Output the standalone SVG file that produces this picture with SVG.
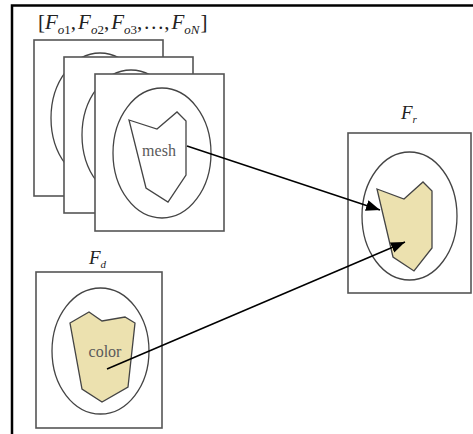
<svg xmlns="http://www.w3.org/2000/svg" width="473" height="434" viewBox="0 0 473 434">
  <style>
    .frame { fill: #ffffff; stroke: #555555; stroke-width: 1.6; }
    .oval { fill: none; stroke: #444444; stroke-width: 1.3; }
    .mesh { fill: #ffffff; stroke: #444444; stroke-width: 1.3; stroke-linejoin: miter; }
    .colored { fill: #ECE1AF; stroke: #444444; stroke-width: 1.3; }
    .lbl { font-family: "Liberation Serif", "Times New Roman", serif; fill: #222222; }
    .it { font-style: italic; }
    .inner { font-family: "Liberation Serif", "Times New Roman", serif; font-size: 16px; fill: #5a5a5a; text-anchor: middle; }
    .conn { stroke: #000000; stroke-width: 1.5; fill: none; }
  </style>
  <defs>
    <marker id="arrow" markerUnits="userSpaceOnUse" markerWidth="15" markerHeight="12" refX="14" refY="5.5" orient="auto">
      <path d="M0,0 L14,5.5 L0,11 z" fill="#000000"/>
    </marker>
  </defs>

  <rect width="473" height="434" fill="#ffffff"/>
  <path d="M12,434 V5.5 H473" fill="none" stroke="#000000" stroke-width="2.5"/>

  <g id="title">
    <text class="lbl" x="38" y="29" font-size="21">[<tspan class="it">F</tspan><tspan class="it" font-size="13" dy="5">o</tspan><tspan font-size="13">1</tspan><tspan dy="-5">,</tspan><tspan class="it" dx="2">F</tspan><tspan class="it" font-size="13" dy="5">o</tspan><tspan font-size="13">2</tspan><tspan dy="-5">,</tspan><tspan class="it" dx="2">F</tspan><tspan class="it" font-size="13" dy="5">o</tspan><tspan font-size="13">3</tspan><tspan dy="-5">,</tspan><tspan dx="1">…,</tspan><tspan class="it" dx="2">F</tspan><tspan class="it" font-size="13" dy="5">oN</tspan><tspan dy="-5" dx="1">]</tspan></text>
  </g>

  <g id="frame-o1">
    <rect class="frame" x="34" y="40" width="129" height="156"/>
    <ellipse class="oval" cx="100" cy="118" rx="49" ry="65"/>
  </g>

  <g id="frame-o2">
    <rect class="frame" x="64" y="57" width="129" height="156"/>
    <ellipse class="oval" cx="131" cy="135" rx="49" ry="65"/>
  </g>

  <g id="frame-o3">
    <rect class="frame" x="95" y="74" width="129" height="157"/>
    <ellipse class="oval" cx="162" cy="153" rx="49" ry="65"/>
    <polygon class="mesh" points="129,120 157,129 177,112 186,121 186,175 168,202 146,188"/>
    <text class="inner" x="159" y="156">mesh</text>
  </g>

  <g id="frame-r">
    <text class="lbl" x="401" y="119" font-size="19"><tspan class="it">F</tspan><tspan class="it" font-size="11" dy="4">r</tspan></text>
    <rect class="frame" x="348" y="133" width="123" height="160"/>
    <ellipse class="oval" cx="409.5" cy="216" rx="47.5" ry="64"/>
    <polygon class="colored" points="377,189 404,199 423,182 432,191 432,248 414,271 393,257"/>
  </g>

  <g id="frame-d">
    <text class="lbl" x="89" y="264" font-size="19"><tspan class="it">F</tspan><tspan class="it" font-size="11" dy="4">d</tspan></text>
    <rect class="frame" x="36" y="272" width="126" height="156"/>
    <ellipse class="oval" cx="100.5" cy="351" rx="48.5" ry="63"/>
    <polygon class="colored" points="70,323 89,312 102,321 125,317 135,323 128,387 102,402 82,389"/>
    <text class="inner" x="105" y="357">color</text>
  </g>

  <g id="connectors">
    <line class="conn" x1="187" y1="146" x2="380" y2="210" marker-end="url(#arrow)"/>
    <line class="conn" x1="107" y1="369" x2="405" y2="242" marker-end="url(#arrow)"/>
  </g>
</svg>
